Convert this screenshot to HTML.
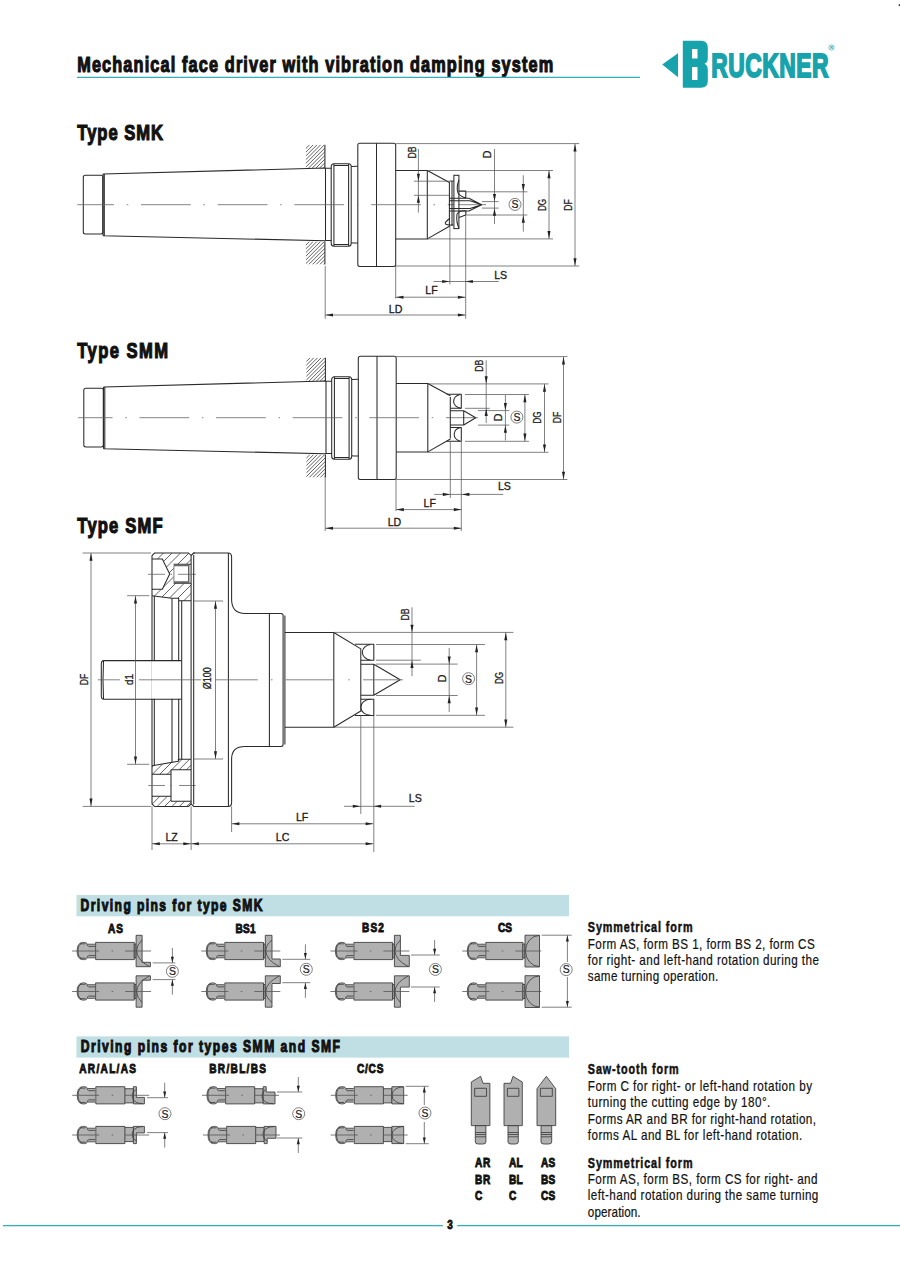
<!DOCTYPE html><html><head><meta charset="utf-8"><style>
body{margin:0;background:#fff;}
svg{display:block;}
text{font-family:"Liberation Sans",sans-serif;fill:#111;stroke:#111;stroke-width:0.15px;}
text[font-weight=bold]{stroke:#111;stroke-width:0.55;paint-order:stroke;}
.dt{stroke:#1a1a1a;stroke-width:0.3;}
.o{stroke:#2a2a2a;stroke-width:1.05;fill:none;stroke-linejoin:round;stroke-linecap:butt;}
.of{stroke:#2a2a2a;stroke-width:1.05;fill:#fff;}
.dm{stroke:#555;stroke-width:0.75;fill:none;}
.cl{stroke:#666;stroke-width:0.8;fill:none;}
.ar{fill:#222;stroke:none;}
.teal{stroke:#2fb0ba;}
.dt{fill:#1a1a1a;}
.pin{fill:#b0b0b0;stroke:#3a3a3a;stroke-width:0.85;stroke-linejoin:round;}
.pcl{stroke:#555;stroke-width:0.8;fill:none;}
.pinl{stroke:#3a3a3a;stroke-width:0.8;fill:none;}
.hat{stroke:#3a3a3a;stroke-width:0.8;}
</style></head><body><svg width="900" height="1271" viewBox="0 0 900 1271"><g transform="translate(77.2 71.7) scale(0.74 1)"><text class="t" x="0" y="0" font-size="22" font-weight="bold" style="stroke-width:1.2px;" textLength="643.24" lengthAdjust="spacing">Mechanical face driver with vibration damping system</text></g>
<line class="teal" x1="77" y1="77.4" x2="640" y2="77.4" stroke-width="1.3"/>
<g transform="translate(77.3 140) scale(0.76 1)"><text class="t" x="0" y="0" font-size="21.8" font-weight="bold" style="stroke-width:1.2px;" textLength="112.76" lengthAdjust="spacing">Type SMK</text></g>
<g transform="translate(77.3 358.2) scale(0.76 1)"><text class="t" x="0" y="0" font-size="21.8" font-weight="bold" style="stroke-width:1.2px;" textLength="119.34" lengthAdjust="spacing">Type SMM</text></g>
<g transform="translate(77.3 532.5) scale(0.76 1)"><text class="t" x="0" y="0" font-size="21.8" font-weight="bold" style="stroke-width:1.2px;" textLength="112.37" lengthAdjust="spacing">Type SMF</text></g>
<rect x="76.5" y="895" width="492.5" height="21.3" fill="#bfdfe4"/>
<g transform="translate(80.6 910.6) scale(0.72 1)"><text class="t" x="0" y="0" font-size="16.8" font-weight="bold" style="stroke-width:1.1px;" textLength="252.64" lengthAdjust="spacing">Driving pins for type SMK</text></g>
<rect x="76.5" y="1036.4" width="492.5" height="21.2" fill="#bfdfe4"/>
<g transform="translate(80.7 1052.4) scale(0.72 1)"><text class="t" x="0" y="0" font-size="16.8" font-weight="bold" style="stroke-width:1.1px;" textLength="360.14" lengthAdjust="spacing">Driving pins for types SMM and SMF</text></g>
<g transform="translate(108 932.5) scale(0.8 1)"><text class="t" x="0" y="0" font-size="12.6" font-weight="bold" style="stroke-width:0.9px;" textLength="18.75" lengthAdjust="spacing">AS</text></g>
<g transform="translate(235.5 932.5) scale(0.8 1)"><text class="t" x="0" y="0" font-size="12.6" font-weight="bold" style="stroke-width:0.9px;" textLength="25.12" lengthAdjust="spacing">BS1</text></g>
<g transform="translate(362 932.2) scale(0.8 1)"><text class="t" x="0" y="0" font-size="12.6" font-weight="bold" style="stroke-width:0.9px;" textLength="27.37" lengthAdjust="spacing">BS2</text></g>
<g transform="translate(498 932.2) scale(0.8 1)"><text class="t" x="0" y="0" font-size="12.6" font-weight="bold" style="stroke-width:0.9px;" textLength="17.50" lengthAdjust="spacing">CS</text></g>
<g transform="translate(79.3 1073) scale(0.8 1)"><text class="t" x="0" y="0" font-size="12.6" font-weight="bold" style="stroke-width:0.9px;" textLength="70.88" lengthAdjust="spacing">AR/AL/AS</text></g>
<g transform="translate(209.3 1073) scale(0.8 1)"><text class="t" x="0" y="0" font-size="12.6" font-weight="bold" style="stroke-width:0.9px;" textLength="70.88" lengthAdjust="spacing">BR/BL/BS</text></g>
<g transform="translate(357 1073) scale(0.8 1)"><text class="t" x="0" y="0" font-size="12.6" font-weight="bold" style="stroke-width:0.9px;" textLength="33.00" lengthAdjust="spacing">C/CS</text></g>
<g transform="translate(475 1167.0) scale(0.8 1)"><text class="t" x="0" y="0" font-size="12.6" font-weight="bold" style="stroke-width:0.9px;" textLength="19.12" lengthAdjust="spacing">AR</text></g>
<g transform="translate(475 1183.5) scale(0.8 1)"><text class="t" x="0" y="0" font-size="12.6" font-weight="bold" style="stroke-width:0.9px;" textLength="19.12" lengthAdjust="spacing">BR</text></g>
<g transform="translate(475 1200.0) scale(0.8 1)"><text class="t" x="0" y="0" font-size="12.6" font-weight="bold" style="stroke-width:0.9px;" textLength="9.12" lengthAdjust="spacing">C</text></g>
<g transform="translate(509 1167.0) scale(0.8 1)"><text class="t" x="0" y="0" font-size="12.6" font-weight="bold" style="stroke-width:0.9px;" textLength="17.12" lengthAdjust="spacing">AL</text></g>
<g transform="translate(509 1183.5) scale(0.8 1)"><text class="t" x="0" y="0" font-size="12.6" font-weight="bold" style="stroke-width:0.9px;" textLength="17.12" lengthAdjust="spacing">BL</text></g>
<g transform="translate(509 1200.0) scale(0.8 1)"><text class="t" x="0" y="0" font-size="12.6" font-weight="bold" style="stroke-width:0.9px;" textLength="9.12" lengthAdjust="spacing">C</text></g>
<g transform="translate(541 1167.0) scale(0.8 1)"><text class="t" x="0" y="0" font-size="12.6" font-weight="bold" style="stroke-width:0.9px;" textLength="17.88" lengthAdjust="spacing">AS</text></g>
<g transform="translate(541 1183.5) scale(0.8 1)"><text class="t" x="0" y="0" font-size="12.6" font-weight="bold" style="stroke-width:0.9px;" textLength="17.88" lengthAdjust="spacing">BS</text></g>
<g transform="translate(541 1200.0) scale(0.8 1)"><text class="t" x="0" y="0" font-size="12.6" font-weight="bold" style="stroke-width:0.9px;" textLength="17.88" lengthAdjust="spacing">CS</text></g>
<g transform="translate(587.8 931.7) scale(0.74 1)"><text class="t" x="0" y="0" font-size="14.6" font-weight="bold" style="stroke-width:0.5px;" textLength="141.49" lengthAdjust="spacing">Symmetrical form</text></g>
<g transform="translate(587.8 948.9) scale(0.8 1)"><text class="t" x="0" y="0" font-size="14.6" style="stroke-width:0.2px;" textLength="283.62" lengthAdjust="spacing">Form AS, form BS 1, form BS 2, form CS</text></g>
<g transform="translate(587.8 964.7) scale(0.8 1)"><text class="t" x="0" y="0" font-size="14.6" style="stroke-width:0.2px;" textLength="288.88" lengthAdjust="spacing">for right- and left-hand rotation during the</text></g>
<g transform="translate(587.8 980.8) scale(0.8 1)"><text class="t" x="0" y="0" font-size="14.6" style="stroke-width:0.2px;" textLength="163.12" lengthAdjust="spacing">same turning operation.</text></g>
<g transform="translate(587.8 1073.9) scale(0.74 1)"><text class="t" x="0" y="0" font-size="14.6" font-weight="bold" style="stroke-width:0.5px;" textLength="122.70" lengthAdjust="spacing">Saw-tooth form</text></g>
<g transform="translate(587.8 1090.6) scale(0.8 1)"><text class="t" x="0" y="0" font-size="14.6" style="stroke-width:0.2px;" textLength="280.25" lengthAdjust="spacing">Form C for right- or left-hand rotation by</text></g>
<g transform="translate(587.8 1107.2) scale(0.8 1)"><text class="t" x="0" y="0" font-size="14.6" style="stroke-width:0.2px;" textLength="228.12" lengthAdjust="spacing">turning the cutting edge by 180°.</text></g>
<g transform="translate(587.8 1123.9) scale(0.8 1)"><text class="t" x="0" y="0" font-size="14.6" style="stroke-width:0.2px;" textLength="285.25" lengthAdjust="spacing">Forms AR and BR for right-hand rotation,</text></g>
<g transform="translate(587.8 1139.7) scale(0.8 1)"><text class="t" x="0" y="0" font-size="14.6" style="stroke-width:0.2px;" textLength="268.00" lengthAdjust="spacing">forms AL and BL for left-hand rotation.</text></g>
<g transform="translate(587.8 1167.5) scale(0.74 1)"><text class="t" x="0" y="0" font-size="14.6" font-weight="bold" style="stroke-width:0.5px;" textLength="141.49" lengthAdjust="spacing">Symmetrical form</text></g>
<g transform="translate(587.8 1184.2) scale(0.8 1)"><text class="t" x="0" y="0" font-size="14.6" style="stroke-width:0.2px;" textLength="287.12" lengthAdjust="spacing">Form AS, form BS, form CS for right- and</text></g>
<g transform="translate(587.8 1200.3) scale(0.8 1)"><text class="t" x="0" y="0" font-size="14.6" style="stroke-width:0.2px;" textLength="288.12" lengthAdjust="spacing">left-hand rotation during the same turning</text></g>
<g transform="translate(587.8 1217) scale(0.8 1)"><text class="t" x="0" y="0" font-size="14.6" style="stroke-width:0.2px;" textLength="66.00" lengthAdjust="spacing">operation.</text></g>
<line class="teal" x1="3" y1="1225.7" x2="442.8" y2="1225.7" stroke-width="1.3"/>
<line class="teal" x1="457.2" y1="1225.7" x2="900" y2="1225.7" stroke-width="1.3"/>
<g transform="translate(450 1229) scale(0.8 1)"><text class="t" x="0" y="0" font-size="12.4" font-weight="bold" style="stroke-width:0.8px;" text-anchor="middle">3</text></g>
<polygon fill="#17a3ac" points="662.2,64.6 678,53.2 678,77.2"/>
<path fill="#17a3ac" fill-rule="evenodd" d="M682.8,40.8 L701,40.8 Q707.8,40.8 707.8,48 L707.8,58 Q707.8,62.5 704.5,63.8 Q707.8,65.2 707.8,70 L707.8,81 Q707.8,87.8 701,87.8 L682.8,87.8 Z M692,48.9 L697.5,48.9 L697.5,58.6 L692,58.6 Z M692,66.9 L697.5,66.9 L697.5,80 L692,80 Z"/>
<g transform="translate(711.2 76.6) scale(0.68 1)"><text class="t" x="0" y="0" font-size="33.6" font-weight="bold" style="fill:#17a3ac;stroke:#17a3ac;stroke-width:1.9px;" textLength="172.50" lengthAdjust="spacing">RUCKNER</text></g>
<circle cx="831.5" cy="47.5" r="2.6" fill="none" stroke="#17a3ac" stroke-width="0.6"/>
<text class="t" x="831.5" y="49" font-size="3.6" font-weight="bold" style="fill:#17a3ac;stroke:#17a3ac;stroke-width:0.1px;" text-anchor="middle">R</text>
<rect x="898.7" y="4.2" width="1.3" height="1.9" fill="#333"/>
<rect class="o" x="83.3" y="175.3" width="19.5" height="58.7" rx="2"/>
<path class="o" d="M103,174.0 L325.5,168.0 M103,235.8 L325.5,240.7 M103,174.0 L103,235.8 M104.3,174.2 L104.3,235.5 M325.5,168.0 L325.5,240.7" />
<path class="o" d="M325.5,168.3 L331.5,168.3 M325.5,240.5 L331.5,240.5" />
<path class="o" d="M331.2,166.3 Q331.4,163.9 333.8,163.7 L348.8,163.7 Q351,163.9 351.2,166.3 L351.2,243.6 Q351,246.0 348.8,246.2 L333.8,246.2 Q331.4,246.0 331.2,243.6 Z" />
<path class="o" d="M333.9,164.0 L333.9,246.0 M348.6,164.0 L348.6,246.0 M333.9,165.4 L348.6,165.4 M333.9,244.5 L348.6,244.5"  stroke-width="0.8"/>
<path class="o" d="M351.2,166.5 Q353,166.2 357.8,166.2 M351.2,242.7 Q353,243.0 357.8,243.0" />
<rect class="o" x="357.8" y="143.3" width="37.9" height="123.1" rx="2"/>
<line class="o" x1="376.5" y1="143.3" x2="376.5" y2="266.4"/>
<clipPath id="h305144"><rect x="305.9" y="144.8" width="18.900000000000034" height="23.19999999999999"/></clipPath>
<path class="hat" clip-path="url(#h305144)" d="M282.70,168.0 L305.90,144.8 M286.40,168.0 L309.60,144.8 M290.10,168.0 L313.30,144.8 M293.80,168.0 L317.00,144.8 M297.50,168.0 L320.70,144.8 M301.20,168.0 L324.40,144.8 M304.90,168.0 L328.10,144.8 M308.60,168.0 L331.80,144.8 M312.30,168.0 L335.50,144.8 M316.00,168.0 L339.20,144.8 M319.70,168.0 L342.90,144.8 M323.40,168.0 L346.60,144.8"/>
<clipPath id="h305241"><rect x="305.9" y="241.4" width="18.900000000000034" height="23.200000000000017"/></clipPath>
<path class="hat" clip-path="url(#h305241)" d="M282.70,264.6 L305.90,241.4 M286.40,264.6 L309.60,241.4 M290.10,264.6 L313.30,241.4 M293.80,264.6 L317.00,241.4 M297.50,264.6 L320.70,241.4 M301.20,264.6 L324.40,241.4 M304.90,264.6 L328.10,241.4 M308.60,264.6 L331.80,241.4 M312.30,264.6 L335.50,241.4 M316.00,264.6 L339.20,241.4 M319.70,264.6 L342.90,241.4 M323.40,264.6 L346.60,241.4"/>
<line class="o" x1="324.9" y1="144.8" x2="324.9" y2="168.0" stroke-width="0.9"/>
<line class="o" x1="324.9" y1="241.4" x2="324.9" y2="264.6" stroke-width="0.9"/>
<path class="o" d="M395.7,170.5 L427.3,170.5 L427.3,238.9 L395.7,238.9" />
<path class="o" d="M427.3,170.5 L449.9,182.7 M427.3,238.9 L449.9,226.0" />
<path class="cl" d="M77.30,204.7 L114.00,204.7 M126.75,204.7 L128.25,204.7 M141.00,204.7 L190.70,204.7 M203.45,204.7 L204.95,204.7 M217.70,204.7 L267.40,204.7 M280.15,204.7 L281.65,204.7 M294.40,204.7 L344.10,204.7 M356.85,204.7 L358.35,204.7 M371.10,204.7 L420.80,204.7 M433.55,204.7 L435.05,204.7 M447.80,204.7 L486.00,204.7"/>
<path class="o" d="M449.4,182.5 L449.4,226.5 M452,181.5 L452,226" />
<rect class="of" x="453.9" y="175.3" width="5" height="53.3" rx="0"/>
<path class="o" d="M458.9,180 Q456,188 458,193 Q461,197 465.8,197.8 L465.8,191.1 L458.9,191.1" />
<path class="o" d="M449.4,181.1 L453.9,181.1" />
<path class="o" d="M449.4,198.3 L468.9,198.3 L481.7,204.7 L468.9,211 L449.4,211 M449.4,200.8 L470,200.8 M449.4,208.4 L470,208.4 M470,200.8 L481.7,204.7 L470,208.4"  stroke-width="0.9"/>
<path class="o" d="M458.9,228 Q456,222 457,214 Q460,210 466,211 L465.6,215 L459,217.5"  stroke-width="0.9"/>
<path class="o" d="M450,218.3 Q444,222.5 445.5,224 Q448,225.5 453.3,224.7"  stroke-width="0.9"/>
<line class="dm" x1="395.7" y1="143.6" x2="579.2" y2="143.6"/>
<line class="dm" x1="395.7" y1="266" x2="579.2" y2="266"/>
<line class="dm" x1="427.3" y1="170.5" x2="553" y2="170.5"/>
<line class="dm" x1="427.3" y1="238.9" x2="553" y2="238.9"/>
<line class="dm" x1="466" y1="191.8" x2="527.3" y2="191.8"/>
<line class="dm" x1="466" y1="215" x2="527.3" y2="215"/>
<line class="dm" x1="482" y1="201.6" x2="498.6" y2="201.6"/>
<line class="dm" x1="482" y1="208.1" x2="498.6" y2="208.1"/>
<line class="dm" x1="575" y1="143.6" x2="575" y2="266"/>
<polygon class="ar" points="575.00,143.90 573.45,151.40 576.55,151.40"/>
<polygon class="ar" points="575.00,265.70 573.45,258.20 576.55,258.20"/>
<text class="dt" x="572.4" y="205" font-size="10.6" text-anchor="middle" textLength="11.6" lengthAdjust="spacingAndGlyphs" transform="rotate(-90 572.4 205)">DF</text>
<line class="dm" x1="549" y1="170.5" x2="549" y2="238.9"/>
<polygon class="ar" points="549.00,170.80 547.45,178.30 550.55,178.30"/>
<polygon class="ar" points="549.00,238.60 547.45,231.10 550.55,231.10"/>
<text class="dt" x="546.4" y="205" font-size="10.6" text-anchor="middle" textLength="12" lengthAdjust="spacingAndGlyphs" transform="rotate(-90 546.4 205)">DG</text>
<line class="dm" x1="523.3" y1="175.3" x2="523.3" y2="231.6"/>
<polygon class="ar" points="523.30,191.60 521.75,184.10 524.85,184.10"/>
<polygon class="ar" points="523.30,215.20 521.75,222.70 524.85,222.70"/>
<circle class="dm" cx="515" cy="204.4" r="6" fill="none"/>
<text class="dt" x="515" y="208.20000000000002" font-size="10.5" style="stroke-width:0.2px;" text-anchor="middle">S</text>
<line class="dm" x1="494.5" y1="149" x2="494.5" y2="224"/>
<polygon class="ar" points="494.50,201.40 492.95,193.90 496.05,193.90"/>
<polygon class="ar" points="494.50,208.30 492.95,215.80 496.05,215.80"/>
<text class="dt" x="491.4" y="154.5" font-size="10.6" text-anchor="middle" transform="rotate(-90 491.4 154.5)">D</text>
<line class="dm" x1="418.4" y1="149" x2="418.4" y2="212.6"/>
<polygon class="ar" points="418.40,181.20 416.85,173.70 419.95,173.70"/>
<polygon class="ar" points="418.40,195.30 416.85,202.80 419.95,202.80"/>
<line class="dm" x1="414" y1="181.2" x2="449" y2="181.2"/>
<line class="dm" x1="414" y1="195.3" x2="449" y2="195.3"/>
<text class="dt" x="415.6" y="152.5" font-size="10.6" text-anchor="middle" textLength="12" lengthAdjust="spacingAndGlyphs" transform="rotate(-90 415.6 152.5)">DB</text>
<line class="dm" x1="449.9" y1="226" x2="449.9" y2="284.4"/>
<line class="dm" x1="465.7" y1="212" x2="465.7" y2="318.7"/>
<line class="dm" x1="395.7" y1="266" x2="395.7" y2="298.6"/>
<line class="dm" x1="325.2" y1="266" x2="325.2" y2="318.7"/>
<line class="dm" x1="433.5" y1="281.5" x2="498.8" y2="281.5"/>
<polygon class="ar" points="449.70,281.50 442.20,279.95 442.20,283.05"/>
<polygon class="ar" points="465.40,281.50 472.90,279.95 472.90,283.05"/>
<text class="dt" x="500.7" y="278.8" font-size="10.6" text-anchor="middle">LS</text>
<line class="dm" x1="395.7" y1="297.2" x2="465.7" y2="297.2"/>
<polygon class="ar" points="396.00,297.20 403.50,295.65 403.50,298.75"/>
<polygon class="ar" points="465.40,297.20 457.90,295.65 457.90,298.75"/>
<text class="dt" x="431.5" y="294.2" font-size="10.6" text-anchor="middle">LF</text>
<line class="dm" x1="325.2" y1="315" x2="465.7" y2="315"/>
<polygon class="ar" points="325.50,315.00 333.00,313.45 333.00,316.55"/>
<polygon class="ar" points="465.40,315.00 457.90,313.45 457.90,316.55"/>
<text class="dt" x="395.6" y="312.6" font-size="10.6" text-anchor="middle">LD</text>
<rect class="o" x="83.8" y="388.3" width="19.5" height="58.7" rx="2"/>
<path class="o" d="M103.5,387.0 L326.0,381.0 M103.5,448.8 L326.0,453.7 M103.5,387.0 L103.5,448.8 M104.8,387.2 L104.8,448.5 M326.0,381.0 L326.0,453.7" />
<path class="o" d="M326.0,381.3 L332.0,381.3 M326.0,453.5 L332.0,453.5" />
<path class="o" d="M331.7,379.3 Q331.9,376.9 334.3,376.7 L349.3,376.7 Q351.5,376.9 351.7,379.3 L351.7,456.6 Q351.5,459.0 349.3,459.2 L334.3,459.2 Q331.9,459.0 331.7,456.6 Z" />
<path class="o" d="M334.4,377.0 L334.4,459.0 M349.1,377.0 L349.1,459.0 M334.4,378.4 L349.1,378.4 M334.4,457.5 L349.1,457.5"  stroke-width="0.8"/>
<path class="o" d="M351.7,379.5 Q353.5,379.2 358.3,379.2 M351.7,455.7 Q353.5,456.0 358.3,456.0" />
<rect class="o" x="358.3" y="356.3" width="37.9" height="123.1" rx="2"/>
<line class="o" x1="377.0" y1="356.3" x2="377.0" y2="479.4"/>
<clipPath id="h306357"><rect x="306.4" y="357.8" width="18.900000000000034" height="23.19999999999999"/></clipPath>
<path class="hat" clip-path="url(#h306357)" d="M283.20,381.0 L306.40,357.8 M286.90,381.0 L310.10,357.8 M290.60,381.0 L313.80,357.8 M294.30,381.0 L317.50,357.8 M298.00,381.0 L321.20,357.8 M301.70,381.0 L324.90,357.8 M305.40,381.0 L328.60,357.8 M309.10,381.0 L332.30,357.8 M312.80,381.0 L336.00,357.8 M316.50,381.0 L339.70,357.8 M320.20,381.0 L343.40,357.8 M323.90,381.0 L347.10,357.8"/>
<clipPath id="h306454"><rect x="306.4" y="454.4" width="18.900000000000034" height="23.200000000000045"/></clipPath>
<path class="hat" clip-path="url(#h306454)" d="M283.20,477.6 L306.40,454.4 M286.90,477.6 L310.10,454.4 M290.60,477.6 L313.80,454.4 M294.30,477.6 L317.50,454.4 M298.00,477.6 L321.20,454.4 M301.70,477.6 L324.90,454.4 M305.40,477.6 L328.60,454.4 M309.10,477.6 L332.30,454.4 M312.80,477.6 L336.00,454.4 M316.50,477.6 L339.70,454.4 M320.20,477.6 L343.40,454.4 M323.90,477.6 L347.10,454.4"/>
<line class="o" x1="325.4" y1="357.8" x2="325.4" y2="381.0" stroke-width="0.9"/>
<line class="o" x1="325.4" y1="454.4" x2="325.4" y2="477.6" stroke-width="0.9"/>
<path class="o" d="M396.2,383.5 L427.8,383.5 L427.8,451.9 L396.2,451.9" />
<path class="o" d="M427.8,383.5 L450.4,395.7 M427.8,451.9 L450.4,439.0" />
<path class="cl" d="M78.00,417.7 L112.60,417.7 M125.30,417.7 L126.80,417.7 M139.50,417.7 L189.20,417.7 M201.90,417.7 L203.40,417.7 M216.10,417.7 L265.80,417.7 M278.50,417.7 L280.00,417.7 M292.70,417.7 L342.40,417.7 M355.10,417.7 L356.60,417.7 M369.30,417.7 L419.00,417.7 M431.70,417.7 L433.20,417.7 M445.90,417.7 L478.00,417.7"/>
<line class="o" x1="450.3" y1="397" x2="450.3" y2="438.5"/>
<path class="o" d="M446.7,394.3 L461.3,394.3 L461.3,408.3 L450.3,408.3" />
<path class="o" d="M460,394.4 A8.2,7 0 0 0 461,408.2"  stroke-width="0.9"/>
<path class="o" d="M446.7,441.3 L461.3,441.3 L461.3,427.5 L450.3,427.5" />
<path class="o" d="M460,441.2 A8.2,7 0 0 1 461,427.6"  stroke-width="0.9"/>
<path class="o" d="M450.3,410.8 L463.7,410.8 L475.7,417.7 L463.7,425 L450.3,425 M463.7,410.8 L463.7,425" />
<line class="dm" x1="396.1" y1="356.6" x2="567.4" y2="356.6"/>
<line class="dm" x1="396.1" y1="479.5" x2="567.4" y2="479.5"/>
<line class="dm" x1="427.9" y1="383.9" x2="548.5" y2="383.9"/>
<line class="dm" x1="427.9" y1="452.3" x2="548.5" y2="452.3"/>
<line class="dm" x1="465" y1="394.5" x2="528.9" y2="394.5"/>
<line class="dm" x1="465" y1="441.3" x2="528.9" y2="441.3"/>
<line class="dm" x1="478" y1="410.6" x2="509.3" y2="410.6"/>
<line class="dm" x1="478" y1="425.1" x2="509.3" y2="425.1"/>
<line class="dm" x1="465" y1="408.3" x2="489.8" y2="408.3"/>
<line class="dm" x1="563.5" y1="356.6" x2="563.5" y2="479.5"/>
<polygon class="ar" points="563.50,356.90 561.95,364.40 565.05,364.40"/>
<polygon class="ar" points="563.50,479.20 561.95,471.70 565.05,471.70"/>
<text class="dt" x="560.8" y="417.5" font-size="10.6" text-anchor="middle" textLength="11.6" lengthAdjust="spacingAndGlyphs" transform="rotate(-90 560.8 417.5)">DF</text>
<line class="dm" x1="544.5" y1="383.9" x2="544.5" y2="452.3"/>
<polygon class="ar" points="544.50,384.20 542.95,391.70 546.05,391.70"/>
<polygon class="ar" points="544.50,452.00 542.95,444.50 546.05,444.50"/>
<text class="dt" x="541.3" y="417.5" font-size="10.6" text-anchor="middle" textLength="12" lengthAdjust="spacingAndGlyphs" transform="rotate(-90 541.3 417.5)">DG</text>
<line class="dm" x1="524.9" y1="394.5" x2="524.9" y2="441.3"/>
<polygon class="ar" points="524.90,394.80 523.35,402.30 526.45,402.30"/>
<polygon class="ar" points="524.90,441.00 523.35,433.50 526.45,433.50"/>
<circle class="dm" cx="516.9" cy="417.1" r="6" fill="none"/>
<text class="dt" x="516.9" y="420.90000000000003" font-size="10.5" style="stroke-width:0.2px;" text-anchor="middle">S</text>
<line class="dm" x1="505.4" y1="395" x2="505.4" y2="440.4"/>
<polygon class="ar" points="505.40,410.40 503.85,402.90 506.95,402.90"/>
<polygon class="ar" points="505.40,425.30 503.85,432.80 506.95,432.80"/>
<text class="dt" x="502.2" y="417.5" font-size="10.6" text-anchor="middle" transform="rotate(-90 502.2 417.5)">D</text>
<line class="dm" x1="486.2" y1="360.3" x2="486.2" y2="423.2"/>
<polygon class="ar" points="486.20,383.70 484.65,376.20 487.75,376.20"/>
<polygon class="ar" points="486.20,408.50 484.65,416.00 487.75,416.00"/>
<text class="dt" x="483.2" y="365.8" font-size="10.6" text-anchor="middle" textLength="12" lengthAdjust="spacingAndGlyphs" transform="rotate(-90 483.2 365.8)">DB</text>
<line class="dm" x1="450.3" y1="441.3" x2="450.3" y2="498"/>
<line class="dm" x1="461.3" y1="441.3" x2="461.3" y2="531"/>
<line class="dm" x1="396" y1="479.5" x2="396" y2="511"/>
<line class="dm" x1="325.2" y1="478" x2="325.2" y2="531"/>
<line class="dm" x1="434.2" y1="494.4" x2="503.2" y2="494.4"/>
<polygon class="ar" points="450.30,494.40 442.80,492.85 442.80,495.95"/>
<polygon class="ar" points="461.90,494.40 469.40,492.85 469.40,495.95"/>
<text class="dt" x="504.4" y="489.6" font-size="10.6" text-anchor="middle">LS</text>
<line class="dm" x1="396" y1="509.6" x2="461.6" y2="509.6"/>
<polygon class="ar" points="396.30,509.60 403.80,508.05 403.80,511.15"/>
<polygon class="ar" points="461.30,509.60 453.80,508.05 453.80,511.15"/>
<text class="dt" x="429.8" y="506.7" font-size="10.6" text-anchor="middle">LF</text>
<line class="dm" x1="325.2" y1="528.2" x2="461.6" y2="528.2"/>
<polygon class="ar" points="325.50,528.20 333.00,526.65 333.00,529.75"/>
<polygon class="ar" points="461.30,528.20 453.80,526.65 453.80,529.75"/>
<text class="dt" x="394.4" y="525.7" font-size="10.6" text-anchor="middle">LD</text>
<path class="o" d="M154.5,553 L188.6,553 L191.1,555.5 L191.1,803.9 L188.6,806.4 L154.5,806.4 L152,803.9 L152,555.5 Z" />
<clipPath id="cTop"><path d="M152,553 L191.1,553 L191.1,600.7 L178.7,600.7 L178.7,598.3 L171.7,598.3 L152,595.7 Z M152,559 L162.3,559 L169.7,574 L162.3,589.3 L152,589.3 Z M173.7,564.3 L191.1,564.3 L191.1,583.3 L173.7,583.3 Z" clip-rule="evenodd"/></clipPath>
<path class="hat" clip-path="url(#cTop)" d="M90.0,601 L138.0,553 M98.5,601 L146.5,553 M107.0,601 L155.0,553 M115.5,601 L163.5,553 M124.0,601 L172.0,553 M132.5,601 L180.5,553 M141.0,601 L189.0,553 M149.5,601 L197.5,553 M158.0,601 L206.0,553 M166.5,601 L214.5,553 M175.0,601 L223.0,553 M183.5,601 L231.5,553 M192.0,601 L240.0,553"/>
<path class="o" d="M152,595.7 L171.7,598.3 L178.7,598.3 L178.7,600.7 L191.1,600.7" />
<path class="o" d="M152,559 L162.3,559 L169.7,574 L162.3,589.3 L152,589.3" />
<path class="o" d="M173.7,564.3 L191.1,564.3 M173.7,583.3 L191.1,583.3 M188.8,564.3 L188.8,583.3" />
<path d="M173.7,564.3 L189,564.3 L189,566.3 L173.7,566.3 Z M173.7,581.3 L189,581.3 L189,583.3 L173.7,583.3 Z" fill="#666"/>
<line class="dm" x1="173.9" y1="566" x2="173.9" y2="581.5" stroke-width="0.6"/>
<path class="cl" d="M148,574.3 L165,574.3 M170.5,574.3 L172,574.3 M178,574.3 L196,574.3"/>
<clipPath id="cBot"><path d="M152,765.7 L178.3,761.3 L178.3,759.3 L191.1,759.3 L191.1,806.4 L152,806.4 Z M171,769.7 L191.1,769.7 L191.1,801.3 L171,801.3 Z M152,774.3 L171,774.3 L171,796.3 L152,796.3 Z" clip-rule="evenodd"/></clipPath>
<path class="hat" clip-path="url(#cBot)" d="M90.0,807 L138.0,759 M97.4,807 L145.4,759 M104.8,807 L152.8,759 M112.2,807 L160.2,759 M119.6,807 L167.6,759 M127.0,807 L175.0,759 M134.4,807 L182.4,759 M141.8,807 L189.8,759 M149.2,807 L197.2,759 M156.6,807 L204.6,759 M164.0,807 L212.0,759 M171.4,807 L219.4,759 M178.8,807 L226.8,759 M186.2,807 L234.2,759 M193.6,807 L241.6,759"/>
<path class="o" d="M152,765.7 L178.3,761.3 L178.3,759.3 L191.1,759.3" />
<path class="o" d="M171,769.7 L191.1,769.7 M171,801.3 L191.1,801.3 M171,769.7 L171,801.3 M152,774.3 L171,774.3 M152,796.3 L171,796.3" />
<path class="cl" d="M148.3,785.5 L165,785.5 M170.5,785.5 L172,785.5 M179,785.5 L195.7,785.5"/>
<line class="o" x1="154.3" y1="596" x2="154.3" y2="765.3" stroke-width="0.8"/>
<line class="o" x1="172" y1="598.3" x2="172" y2="762.5" stroke-width="0.95"/>
<line class="o" x1="178.7" y1="600.7" x2="178.7" y2="761.3" stroke-width="0.8"/>
<line class="o" x1="181.7" y1="600.7" x2="181.7" y2="759.3" stroke-width="0.95"/>
<path class="o" d="M193.5,553 L228,553 Q231.6,553 231.6,557 L231.6,600 Q232,613.4 244.9,613.4 L281,613.4 Q283.1,613.4 283.1,615.5 L283.1,744.5 Q283.1,746.5 281,746.5 L244.9,746.5 Q232,746.5 231.6,758.4 L231.6,802.4 Q231.6,806.4 228,806.4 L193.7,806.4" />
<path class="o" d="M191.1,555.5 L193.7,553 L195,553 M191.1,803.9 L193.7,806.4 L195,806.4" />
<line class="o" x1="193.7" y1="555" x2="193.7" y2="804.5" stroke-width="0.9"/>
<line class="o" x1="228.4" y1="553" x2="228.4" y2="806.4" stroke-width="0.9"/>
<line class="o" x1="269.4" y1="613.4" x2="269.4" y2="746.5"/>
<line class="o" x1="284.9" y1="615.5" x2="284.9" y2="744.5" stroke-width="0.7"/>
<path class="o" d="M284.9,632.5 L333.8,632.5 L333.8,727.3 L284.9,727.3" />
<path class="o" d="M333.8,632.5 L360.8,648.9 L360.8,711 L333.8,727.3" />
<rect x="151.3" y="661.1" width="29.3" height="37.7" fill="#fff"/>
<path class="o" d="M181.3,660.6 L104,660.6 Q101.3,660.6 101.3,664 L101.3,696 Q101.3,699.3 104,699.3 L181.3,699.3" />
<path class="o" d="M103.5,661 Q102.5,680 103.5,699"  stroke-width="0.7"/>
<path class="o" d="M355,644.3 L373.8,644.3 L373.8,660.3 L360.8,660.3" />
<path class="o" d="M370.5,644.4 A9.7,8 0 0 0 370.5,660.2"  stroke-width="0.9"/>
<path class="o" d="M355,715.4 L373.8,715.4 L373.8,699.2 L360.8,699.2" />
<path class="o" d="M370.5,715.3 A9.7,8 0 0 1 370.5,699.3"  stroke-width="0.9"/>
<path class="o" d="M360.8,664.2 L373.8,664.2 L400.2,679.8 L373.8,695.3 L360.8,695.3 M373.8,664.2 L373.8,695.3" />
<path class="cl" d="M97.8,679.8 L120,679.8 M138.9,679.8 L201.1,679.8 M215.6,679.8 L257.8,679.8 M271,679.8 L272.5,679.8 M285.8,679.8 L333.8,679.8 M348.2,679.8 L349.7,679.8 M363.1,679.8 L402.9,679.8"/>
<line class="dm" x1="82.7" y1="553" x2="151" y2="553"/>
<line class="dm" x1="82.7" y1="806.4" x2="151" y2="806.4"/>
<line class="dm" x1="91" y1="553" x2="91" y2="806.4"/>
<polygon class="ar" points="91.00,553.30 89.45,560.80 92.55,560.80"/>
<polygon class="ar" points="91.00,806.10 89.45,798.60 92.55,798.60"/>
<text class="dt" x="88" y="679.5" font-size="10.6" text-anchor="middle" textLength="11.6" lengthAdjust="spacingAndGlyphs" transform="rotate(-90 88 679.5)">DF</text>
<line class="dm" x1="127.1" y1="595.7" x2="149.3" y2="595.7"/>
<line class="dm" x1="127.1" y1="764.3" x2="149.3" y2="764.3"/>
<line class="dm" x1="135.5" y1="595.7" x2="135.5" y2="764.3"/>
<polygon class="ar" points="135.50,596.00 133.95,603.50 137.05,603.50"/>
<polygon class="ar" points="135.50,764.00 133.95,756.50 137.05,756.50"/>
<text class="dt" x="133" y="679.5" font-size="10.6" text-anchor="middle" textLength="11" lengthAdjust="spacingAndGlyphs" transform="rotate(-90 133 679.5)">d1</text>
<line class="dm" x1="193.8" y1="601" x2="223.1" y2="601"/>
<line class="dm" x1="193.8" y1="759" x2="223.1" y2="759"/>
<line class="dm" x1="215.5" y1="601" x2="215.5" y2="759"/>
<polygon class="ar" points="215.50,601.30 213.95,608.80 217.05,608.80"/>
<polygon class="ar" points="215.50,758.70 213.95,751.20 217.05,751.20"/>
<text class="dt" x="211.5" y="678.3" font-size="10.6" text-anchor="middle" textLength="22" lengthAdjust="spacingAndGlyphs" transform="rotate(-90 211.5 678.3)">Ø100</text>
<line class="dm" x1="333.8" y1="632.4" x2="513.4" y2="632.4"/>
<line class="dm" x1="333.8" y1="727.2" x2="513.4" y2="727.2"/>
<line class="dm" x1="505.8" y1="632.4" x2="505.8" y2="727.2"/>
<polygon class="ar" points="505.80,632.70 504.25,640.20 507.35,640.20"/>
<polygon class="ar" points="505.80,726.90 504.25,719.40 507.35,719.40"/>
<text class="dt" x="502.8" y="678.1" font-size="10.6" text-anchor="middle" textLength="12" lengthAdjust="spacingAndGlyphs" transform="rotate(-90 502.8 678.1)">DG</text>
<line class="dm" x1="376" y1="644.5" x2="485" y2="644.5"/>
<line class="dm" x1="376" y1="715.3" x2="485" y2="715.3"/>
<line class="dm" x1="476.6" y1="644.5" x2="476.6" y2="715.3"/>
<polygon class="ar" points="476.60,644.80 475.05,652.30 478.15,652.30"/>
<polygon class="ar" points="476.60,715.00 475.05,707.50 478.15,707.50"/>
<circle class="dm" cx="468.6" cy="678.7" r="6" fill="none"/>
<text class="dt" x="468.6" y="682.5" font-size="10.5" style="stroke-width:0.2px;" text-anchor="middle">S</text>
<line class="dm" x1="376" y1="664.1" x2="457.7" y2="664.1"/>
<line class="dm" x1="376" y1="695.5" x2="457.7" y2="695.5"/>
<line class="dm" x1="449.2" y1="647.9" x2="449.2" y2="712.1"/>
<polygon class="ar" points="449.20,663.90 447.65,656.40 450.75,656.40"/>
<polygon class="ar" points="449.20,695.70 447.65,703.20 450.75,703.20"/>
<text class="dt" x="446" y="678.5" font-size="10.6" text-anchor="middle" transform="rotate(-90 446 678.5)">D</text>
<line class="dm" x1="376" y1="660.2" x2="420.8" y2="660.2"/>
<line class="dm" x1="412" y1="607.3" x2="412" y2="676.2"/>
<polygon class="ar" points="412.00,632.20 410.45,624.70 413.55,624.70"/>
<polygon class="ar" points="412.00,660.40 410.45,667.90 413.55,667.90"/>
<text class="dt" x="408.6" y="614.6" font-size="10.6" text-anchor="middle" textLength="12" lengthAdjust="spacingAndGlyphs" transform="rotate(-90 408.6 614.6)">DB</text>
<line class="dm" x1="152" y1="806.4" x2="152" y2="850"/>
<line class="dm" x1="191.1" y1="806.4" x2="191.1" y2="850"/>
<line class="dm" x1="231.6" y1="806.4" x2="231.6" y2="832"/>
<line class="dm" x1="360.8" y1="715.4" x2="360.8" y2="814"/>
<line class="dm" x1="373.8" y1="715.4" x2="373.8" y2="852"/>
<line class="dm" x1="152" y1="843.8" x2="373.4" y2="843.8"/>
<polygon class="ar" points="152.30,843.80 159.80,842.25 159.80,845.35"/>
<polygon class="ar" points="190.80,843.80 183.30,842.25 183.30,845.35"/>
<polygon class="ar" points="191.40,843.80 198.90,842.25 198.90,845.35"/>
<polygon class="ar" points="373.10,843.80 365.60,842.25 365.60,845.35"/>
<text class="dt" x="171.6" y="841.1" font-size="10.6" text-anchor="middle">LZ</text>
<text class="dt" x="282.6" y="840.8" font-size="10.6" text-anchor="middle">LC</text>
<line class="dm" x1="231.6" y1="823.8" x2="373.4" y2="823.8"/>
<polygon class="ar" points="231.90,823.80 239.40,822.25 239.40,825.35"/>
<polygon class="ar" points="373.10,823.80 365.60,822.25 365.60,825.35"/>
<text class="dt" x="302.1" y="821.2" font-size="10.6" text-anchor="middle">LF</text>
<line class="dm" x1="344" y1="806.3" x2="414.7" y2="806.3"/>
<polygon class="ar" points="360.30,806.30 352.80,804.75 352.80,807.85"/>
<polygon class="ar" points="373.60,806.30 381.10,804.75 381.10,807.85"/>
<text class="dt" x="415.3" y="802" font-size="10.6" text-anchor="middle">LS</text>
<rect x="86.50" y="944.20" width="8.6" height="13.6" fill="#b0b0b0"/>
<path class="pinl" d="M87.50,944.20 L95.10,944.20 M87.50,957.80 L95.10,957.80"  stroke-width="0.8"/>
<path class="pinl" d="M88.50,946.40 L95.10,946.40 M88.50,955.60 L95.10,955.60"  stroke-width="0.8"/>
<path d="M88.50,946.40 Q87.30,946.00 87.30,944.50 Q87.00,942.40 84.50,942.40 L82.60,942.40 Q77.10,942.80 77.10,951.00 Q77.10,959.20 82.60,959.60 L84.50,959.60 Q87.00,959.60 87.30,957.50 Q87.30,956.00 88.50,955.60 Z" fill="#b4b4b4"/>
<path class="pinl" d="M88.50,946.40 Q87.30,946.00 87.30,944.50 Q87.00,942.40 84.50,942.40 L82.60,942.40 Q77.10,942.80 77.10,951.00 Q77.10,959.20 82.60,959.60 L84.50,959.60 Q87.00,959.60 87.30,957.50 Q87.30,956.00 88.50,955.60"  stroke-width="0.9"/>
<path class="pinl" d="M81.60,943.40 Q78.00,944.50 78.00,951.00 Q78.00,957.50 81.60,958.60"  stroke-width="1.2"/>
<path class="pinl" d="M80.10,943.80 L85.50,943.80 M80.10,958.20 L85.50,958.20"  stroke-width="0.6"/>
<rect class="pin" x="95.60" y="942.40" width="38.70" height="17.20" rx="0"/>
<path class="pin" d="M134.30,944.00 L136.10,944.00 L136.10,958.00 L134.30,958.00 Z" />
<path class="pin" d="M136.10,935.30 L142.10,935.30 L142.10,962.30 L150.40,962.30 L150.40,966.70 L136.10,966.70 Z" />
<path class="pinl" d="M142.10,940.00 Q136.60,945.00 136.60,951.00 Q137.10,960.00 149.40,966.50"  stroke-width="0.9"/>
<rect x="86.50" y="984.70" width="8.6" height="13.6" fill="#b0b0b0"/>
<path class="pinl" d="M87.50,984.70 L95.10,984.70 M87.50,998.30 L95.10,998.30"  stroke-width="0.8"/>
<path class="pinl" d="M88.50,986.90 L95.10,986.90 M88.50,996.10 L95.10,996.10"  stroke-width="0.8"/>
<path d="M88.50,986.90 Q87.30,986.50 87.30,985.00 Q87.00,982.90 84.50,982.90 L82.60,982.90 Q77.10,983.30 77.10,991.50 Q77.10,999.70 82.60,1000.10 L84.50,1000.10 Q87.00,1000.10 87.30,998.00 Q87.30,996.50 88.50,996.10 Z" fill="#b4b4b4"/>
<path class="pinl" d="M88.50,986.90 Q87.30,986.50 87.30,985.00 Q87.00,982.90 84.50,982.90 L82.60,982.90 Q77.10,983.30 77.10,991.50 Q77.10,999.70 82.60,1000.10 L84.50,1000.10 Q87.00,1000.10 87.30,998.00 Q87.30,996.50 88.50,996.10"  stroke-width="0.9"/>
<path class="pinl" d="M81.60,983.90 Q78.00,985.00 78.00,991.50 Q78.00,998.00 81.60,999.10"  stroke-width="1.2"/>
<path class="pinl" d="M80.10,984.30 L85.50,984.30 M80.10,998.70 L85.50,998.70"  stroke-width="0.6"/>
<rect class="pin" x="95.60" y="982.90" width="38.70" height="17.20" rx="0"/>
<path class="pin" d="M134.30,984.50 L136.10,984.50 L136.10,998.50 L134.30,998.50 Z" />
<path class="pin" d="M136.10,1007.20 L142.10,1007.20 L142.10,980.20 L150.40,980.20 L150.40,975.80 L136.10,975.80 Z" />
<path class="pinl" d="M142.10,1002.50 Q136.60,997.50 136.60,991.50 Q137.10,982.50 149.40,976.00"  stroke-width="0.9"/>
<rect x="215.70" y="944.20" width="8.6" height="13.6" fill="#b0b0b0"/>
<path class="pinl" d="M216.70,944.20 L224.30,944.20 M216.70,957.80 L224.30,957.80"  stroke-width="0.8"/>
<path class="pinl" d="M217.70,946.40 L224.30,946.40 M217.70,955.60 L224.30,955.60"  stroke-width="0.8"/>
<path d="M217.70,946.40 Q216.50,946.00 216.50,944.50 Q216.20,942.40 213.70,942.40 L211.80,942.40 Q206.30,942.80 206.30,951.00 Q206.30,959.20 211.80,959.60 L213.70,959.60 Q216.20,959.60 216.50,957.50 Q216.50,956.00 217.70,955.60 Z" fill="#b4b4b4"/>
<path class="pinl" d="M217.70,946.40 Q216.50,946.00 216.50,944.50 Q216.20,942.40 213.70,942.40 L211.80,942.40 Q206.30,942.80 206.30,951.00 Q206.30,959.20 211.80,959.60 L213.70,959.60 Q216.20,959.60 216.50,957.50 Q216.50,956.00 217.70,955.60"  stroke-width="0.9"/>
<path class="pinl" d="M210.80,943.40 Q207.20,944.50 207.20,951.00 Q207.20,957.50 210.80,958.60"  stroke-width="1.2"/>
<path class="pinl" d="M209.30,943.80 L214.70,943.80 M209.30,958.20 L214.70,958.20"  stroke-width="0.6"/>
<rect class="pin" x="224.80" y="942.40" width="38.70" height="17.20" rx="0"/>
<path class="pin" d="M263.50,944.00 L265.30,944.00 L265.30,958.00 L263.50,958.00 Z" />
<path class="pin" d="M265.30,935.30 L272.00,935.30 L272.00,959.00 L280.30,959.00 L280.30,966.70 L265.30,966.70 Z" />
<path class="pinl" d="M272.00,940.00 Q265.80,945.00 265.80,951.00 Q266.30,960.00 279.30,966.50"  stroke-width="0.9"/>
<rect x="215.70" y="984.70" width="8.6" height="13.6" fill="#b0b0b0"/>
<path class="pinl" d="M216.70,984.70 L224.30,984.70 M216.70,998.30 L224.30,998.30"  stroke-width="0.8"/>
<path class="pinl" d="M217.70,986.90 L224.30,986.90 M217.70,996.10 L224.30,996.10"  stroke-width="0.8"/>
<path d="M217.70,986.90 Q216.50,986.50 216.50,985.00 Q216.20,982.90 213.70,982.90 L211.80,982.90 Q206.30,983.30 206.30,991.50 Q206.30,999.70 211.80,1000.10 L213.70,1000.10 Q216.20,1000.10 216.50,998.00 Q216.50,996.50 217.70,996.10 Z" fill="#b4b4b4"/>
<path class="pinl" d="M217.70,986.90 Q216.50,986.50 216.50,985.00 Q216.20,982.90 213.70,982.90 L211.80,982.90 Q206.30,983.30 206.30,991.50 Q206.30,999.70 211.80,1000.10 L213.70,1000.10 Q216.20,1000.10 216.50,998.00 Q216.50,996.50 217.70,996.10"  stroke-width="0.9"/>
<path class="pinl" d="M210.80,983.90 Q207.20,985.00 207.20,991.50 Q207.20,998.00 210.80,999.10"  stroke-width="1.2"/>
<path class="pinl" d="M209.30,984.30 L214.70,984.30 M209.30,998.70 L214.70,998.70"  stroke-width="0.6"/>
<rect class="pin" x="224.80" y="982.90" width="38.70" height="17.20" rx="0"/>
<path class="pin" d="M263.50,984.50 L265.30,984.50 L265.30,998.50 L263.50,998.50 Z" />
<path class="pin" d="M265.30,1007.20 L272.00,1007.20 L272.00,983.50 L280.30,983.50 L280.30,975.80 L265.30,975.80 Z" />
<path class="pinl" d="M272.00,1002.50 Q265.80,997.50 265.80,991.50 Q266.30,982.50 279.30,976.00"  stroke-width="0.9"/>
<rect x="344.80" y="944.20" width="8.6" height="13.6" fill="#b0b0b0"/>
<path class="pinl" d="M345.80,944.20 L353.40,944.20 M345.80,957.80 L353.40,957.80"  stroke-width="0.8"/>
<path class="pinl" d="M346.80,946.40 L353.40,946.40 M346.80,955.60 L353.40,955.60"  stroke-width="0.8"/>
<path d="M346.80,946.40 Q345.60,946.00 345.60,944.50 Q345.30,942.40 342.80,942.40 L340.90,942.40 Q335.40,942.80 335.40,951.00 Q335.40,959.20 340.90,959.60 L342.80,959.60 Q345.30,959.60 345.60,957.50 Q345.60,956.00 346.80,955.60 Z" fill="#b4b4b4"/>
<path class="pinl" d="M346.80,946.40 Q345.60,946.00 345.60,944.50 Q345.30,942.40 342.80,942.40 L340.90,942.40 Q335.40,942.80 335.40,951.00 Q335.40,959.20 340.90,959.60 L342.80,959.60 Q345.30,959.60 345.60,957.50 Q345.60,956.00 346.80,955.60"  stroke-width="0.9"/>
<path class="pinl" d="M339.90,943.40 Q336.30,944.50 336.30,951.00 Q336.30,957.50 339.90,958.60"  stroke-width="1.2"/>
<path class="pinl" d="M338.40,943.80 L343.80,943.80 M338.40,958.20 L343.80,958.20"  stroke-width="0.6"/>
<rect class="pin" x="353.90" y="942.40" width="38.70" height="17.20" rx="0"/>
<path class="pin" d="M392.60,944.00 L394.40,944.00 L394.40,958.00 L392.60,958.00 Z" />
<path class="pin" d="M394.40,935.30 L400.40,935.30 L400.40,955.40 L409.30,955.40 L409.30,966.70 L394.40,966.70 Z" />
<path class="pinl" d="M400.40,940.00 Q394.90,945.00 394.90,951.00 Q395.40,960.00 408.30,966.50"  stroke-width="0.9"/>
<rect x="344.80" y="984.70" width="8.6" height="13.6" fill="#b0b0b0"/>
<path class="pinl" d="M345.80,984.70 L353.40,984.70 M345.80,998.30 L353.40,998.30"  stroke-width="0.8"/>
<path class="pinl" d="M346.80,986.90 L353.40,986.90 M346.80,996.10 L353.40,996.10"  stroke-width="0.8"/>
<path d="M346.80,986.90 Q345.60,986.50 345.60,985.00 Q345.30,982.90 342.80,982.90 L340.90,982.90 Q335.40,983.30 335.40,991.50 Q335.40,999.70 340.90,1000.10 L342.80,1000.10 Q345.30,1000.10 345.60,998.00 Q345.60,996.50 346.80,996.10 Z" fill="#b4b4b4"/>
<path class="pinl" d="M346.80,986.90 Q345.60,986.50 345.60,985.00 Q345.30,982.90 342.80,982.90 L340.90,982.90 Q335.40,983.30 335.40,991.50 Q335.40,999.70 340.90,1000.10 L342.80,1000.10 Q345.30,1000.10 345.60,998.00 Q345.60,996.50 346.80,996.10"  stroke-width="0.9"/>
<path class="pinl" d="M339.90,983.90 Q336.30,985.00 336.30,991.50 Q336.30,998.00 339.90,999.10"  stroke-width="1.2"/>
<path class="pinl" d="M338.40,984.30 L343.80,984.30 M338.40,998.70 L343.80,998.70"  stroke-width="0.6"/>
<rect class="pin" x="353.90" y="982.90" width="38.70" height="17.20" rx="0"/>
<path class="pin" d="M392.60,984.50 L394.40,984.50 L394.40,998.50 L392.60,998.50 Z" />
<path class="pin" d="M394.40,1007.20 L400.40,1007.20 L400.40,987.10 L409.30,987.10 L409.30,975.80 L394.40,975.80 Z" />
<path class="pinl" d="M400.40,1002.50 Q394.90,997.50 394.90,991.50 Q395.40,982.50 408.30,976.00"  stroke-width="0.9"/>
<rect x="476.70" y="944.20" width="8.6" height="13.6" fill="#b0b0b0"/>
<path class="pinl" d="M477.70,944.20 L485.30,944.20 M477.70,957.80 L485.30,957.80"  stroke-width="0.8"/>
<path class="pinl" d="M478.70,946.40 L485.30,946.40 M478.70,955.60 L485.30,955.60"  stroke-width="0.8"/>
<path d="M478.70,946.40 Q477.50,946.00 477.50,944.50 Q477.20,942.40 474.70,942.40 L472.80,942.40 Q467.30,942.80 467.30,951.00 Q467.30,959.20 472.80,959.60 L474.70,959.60 Q477.20,959.60 477.50,957.50 Q477.50,956.00 478.70,955.60 Z" fill="#b4b4b4"/>
<path class="pinl" d="M478.70,946.40 Q477.50,946.00 477.50,944.50 Q477.20,942.40 474.70,942.40 L472.80,942.40 Q467.30,942.80 467.30,951.00 Q467.30,959.20 472.80,959.60 L474.70,959.60 Q477.20,959.60 477.50,957.50 Q477.50,956.00 478.70,955.60"  stroke-width="0.9"/>
<path class="pinl" d="M471.80,943.40 Q468.20,944.50 468.20,951.00 Q468.20,957.50 471.80,958.60"  stroke-width="1.2"/>
<path class="pinl" d="M470.30,943.80 L475.70,943.80 M470.30,958.20 L475.70,958.20"  stroke-width="0.6"/>
<rect class="pin" x="485.80" y="942.40" width="37.10" height="17.20" rx="0"/>
<path class="pin" d="M522.90,944.00 L525.00,944.00 L525.00,958.00 L522.90,958.00 Z" />
<rect class="pin" x="525.00" y="935.20" width="14.50" height="31.8" rx="0"/>
<path class="pinl" d="M539.20,935.50 A13.70,15.5 0 0 0 539.20,966.50"  stroke-width="0.9"/>
<rect x="476.70" y="984.70" width="8.6" height="13.6" fill="#b0b0b0"/>
<path class="pinl" d="M477.70,984.70 L485.30,984.70 M477.70,998.30 L485.30,998.30"  stroke-width="0.8"/>
<path class="pinl" d="M478.70,986.90 L485.30,986.90 M478.70,996.10 L485.30,996.10"  stroke-width="0.8"/>
<path d="M478.70,986.90 Q477.50,986.50 477.50,985.00 Q477.20,982.90 474.70,982.90 L472.80,982.90 Q467.30,983.30 467.30,991.50 Q467.30,999.70 472.80,1000.10 L474.70,1000.10 Q477.20,1000.10 477.50,998.00 Q477.50,996.50 478.70,996.10 Z" fill="#b4b4b4"/>
<path class="pinl" d="M478.70,986.90 Q477.50,986.50 477.50,985.00 Q477.20,982.90 474.70,982.90 L472.80,982.90 Q467.30,983.30 467.30,991.50 Q467.30,999.70 472.80,1000.10 L474.70,1000.10 Q477.20,1000.10 477.50,998.00 Q477.50,996.50 478.70,996.10"  stroke-width="0.9"/>
<path class="pinl" d="M471.80,983.90 Q468.20,985.00 468.20,991.50 Q468.20,998.00 471.80,999.10"  stroke-width="1.2"/>
<path class="pinl" d="M470.30,984.30 L475.70,984.30 M470.30,998.70 L475.70,998.70"  stroke-width="0.6"/>
<rect class="pin" x="485.80" y="982.90" width="37.10" height="17.20" rx="0"/>
<path class="pin" d="M522.90,984.50 L525.00,984.50 L525.00,998.50 L522.90,998.50 Z" />
<rect class="pin" x="525.00" y="975.70" width="14.50" height="31.8" rx="0"/>
<path class="pinl" d="M539.20,976.00 A13.70,15.5 0 0 0 539.20,1007.00"  stroke-width="0.9"/>
<line class="dm" x1="152.7" y1="962.9" x2="175.3" y2="962.9"/>
<line class="dm" x1="152.7" y1="979.6" x2="175.3" y2="979.6"/>
<line class="dm" x1="172.4" y1="947.9" x2="172.4" y2="962.9"/>
<polygon class="ar" points="172.40,962.70 170.90,956.70 173.90,956.70"/>
<line class="dm" x1="172.4" y1="979.6" x2="172.4" y2="994.6"/>
<polygon class="ar" points="172.40,979.80 170.90,985.80 173.90,985.80"/>
<circle class="dm" cx="172.4" cy="971.3" r="6" fill="none"/>
<text class="dt" x="172.4" y="975.0999999999999" font-size="10.5" style="stroke-width:0.2px;" text-anchor="middle">S</text>
<line class="dm" x1="282.3" y1="959.3" x2="310.3" y2="959.3"/>
<line class="dm" x1="282.3" y1="982.7" x2="310.3" y2="982.7"/>
<line class="dm" x1="305.4" y1="944.3" x2="305.4" y2="959.3"/>
<polygon class="ar" points="305.40,959.10 303.90,953.10 306.90,953.10"/>
<line class="dm" x1="305.4" y1="982.7" x2="305.4" y2="997.7"/>
<polygon class="ar" points="305.40,982.90 303.90,988.90 306.90,988.90"/>
<circle class="dm" cx="306.3" cy="969.3" r="6" fill="none"/>
<text class="dt" x="306.3" y="973.0999999999999" font-size="10.5" style="stroke-width:0.2px;" text-anchor="middle">S</text>
<line class="dm" x1="411" y1="955" x2="439.7" y2="955"/>
<line class="dm" x1="411" y1="987" x2="439.7" y2="987"/>
<line class="dm" x1="434.6" y1="940" x2="434.6" y2="955"/>
<polygon class="ar" points="434.60,954.80 433.10,948.80 436.10,948.80"/>
<line class="dm" x1="434.6" y1="987" x2="434.6" y2="1002"/>
<polygon class="ar" points="434.60,987.20 433.10,993.20 436.10,993.20"/>
<circle class="dm" cx="435.4" cy="969.4" r="6" fill="none"/>
<text class="dt" x="435.4" y="973.1999999999999" font-size="10.5" style="stroke-width:0.2px;" text-anchor="middle">S</text>
<line class="dm" x1="541.7" y1="935.2" x2="571.7" y2="935.2"/>
<line class="dm" x1="541.7" y1="1007.2" x2="571.7" y2="1007.2"/>
<line class="dm" x1="567.4" y1="935.2" x2="567.4" y2="962"/>
<line class="dm" x1="567.4" y1="977" x2="567.4" y2="1007.2"/>
<polygon class="ar" points="567.40,935.50 565.90,941.50 568.90,941.50"/>
<polygon class="ar" points="567.40,1006.90 565.90,1000.90 568.90,1000.90"/>
<circle class="dm" cx="566.2" cy="969.6" r="6" fill="none"/>
<text class="dt" x="566.2" y="973.4" font-size="10.5" style="stroke-width:0.2px;" text-anchor="middle">S</text>
<rect x="86.60" y="1088.50" width="8.6" height="13.6" fill="#b0b0b0"/>
<path class="pinl" d="M87.60,1088.50 L95.20,1088.50 M87.60,1102.10 L95.20,1102.10"  stroke-width="0.8"/>
<path class="pinl" d="M88.60,1090.70 L95.20,1090.70 M88.60,1099.90 L95.20,1099.90"  stroke-width="0.8"/>
<path d="M88.60,1090.70 Q87.40,1090.30 87.40,1088.80 Q87.10,1086.70 84.60,1086.70 L82.70,1086.70 Q77.20,1087.10 77.20,1095.30 Q77.20,1103.50 82.70,1103.90 L84.60,1103.90 Q87.10,1103.90 87.40,1101.80 Q87.40,1100.30 88.60,1099.90 Z" fill="#b4b4b4"/>
<path class="pinl" d="M88.60,1090.70 Q87.40,1090.30 87.40,1088.80 Q87.10,1086.70 84.60,1086.70 L82.70,1086.70 Q77.20,1087.10 77.20,1095.30 Q77.20,1103.50 82.70,1103.90 L84.60,1103.90 Q87.10,1103.90 87.40,1101.80 Q87.40,1100.30 88.60,1099.90"  stroke-width="0.9"/>
<path class="pinl" d="M81.70,1087.70 Q78.10,1088.80 78.10,1095.30 Q78.10,1101.80 81.70,1102.90"  stroke-width="1.2"/>
<path class="pinl" d="M80.20,1088.10 L85.60,1088.10 M80.20,1102.50 L85.60,1102.50"  stroke-width="0.6"/>
<path class="pin" d="M123.90,1088.70 L133.40,1088.70 L133.40,1102.90 L123.90,1102.90 Z" />
<rect class="pin" x="95.80" y="1086.70" width="29.10" height="17.20" rx="0"/>
<path class="pin" d="M133.40,1086.70 L136.40,1086.70 L136.40,1097.40 L144.40,1097.40 L144.40,1103.90 L133.40,1103.90 Z" />
<path class="pinl" d="M136.40,1089.30 Q131.40,1092.30 132.40,1097.80 Q134.40,1103.70 142.90,1103.70"  stroke-width="0.9"/>
<rect x="86.60" y="1128.20" width="8.6" height="13.6" fill="#b0b0b0"/>
<path class="pinl" d="M87.60,1128.20 L95.20,1128.20 M87.60,1141.80 L95.20,1141.80"  stroke-width="0.8"/>
<path class="pinl" d="M88.60,1130.40 L95.20,1130.40 M88.60,1139.60 L95.20,1139.60"  stroke-width="0.8"/>
<path d="M88.60,1130.40 Q87.40,1130.00 87.40,1128.50 Q87.10,1126.40 84.60,1126.40 L82.70,1126.40 Q77.20,1126.80 77.20,1135.00 Q77.20,1143.20 82.70,1143.60 L84.60,1143.60 Q87.10,1143.60 87.40,1141.50 Q87.40,1140.00 88.60,1139.60 Z" fill="#b4b4b4"/>
<path class="pinl" d="M88.60,1130.40 Q87.40,1130.00 87.40,1128.50 Q87.10,1126.40 84.60,1126.40 L82.70,1126.40 Q77.20,1126.80 77.20,1135.00 Q77.20,1143.20 82.70,1143.60 L84.60,1143.60 Q87.10,1143.60 87.40,1141.50 Q87.40,1140.00 88.60,1139.60"  stroke-width="0.9"/>
<path class="pinl" d="M81.70,1127.40 Q78.10,1128.50 78.10,1135.00 Q78.10,1141.50 81.70,1142.60"  stroke-width="1.2"/>
<path class="pinl" d="M80.20,1127.80 L85.60,1127.80 M80.20,1142.20 L85.60,1142.20"  stroke-width="0.6"/>
<path class="pin" d="M123.90,1141.60 L133.40,1141.60 L133.40,1127.40 L123.90,1127.40 Z" />
<rect class="pin" x="95.80" y="1126.40" width="29.10" height="17.20" rx="0"/>
<path class="pin" d="M133.40,1143.60 L136.40,1143.60 L136.40,1132.90 L144.40,1132.90 L144.40,1126.40 L133.40,1126.40 Z" />
<path class="pinl" d="M136.40,1141.00 Q131.40,1138.00 132.40,1132.50 Q134.40,1126.60 142.90,1126.60"  stroke-width="0.9"/>
<rect x="216.40" y="1088.50" width="8.6" height="13.6" fill="#b0b0b0"/>
<path class="pinl" d="M217.40,1088.50 L225.00,1088.50 M217.40,1102.10 L225.00,1102.10"  stroke-width="0.8"/>
<path class="pinl" d="M218.40,1090.70 L225.00,1090.70 M218.40,1099.90 L225.00,1099.90"  stroke-width="0.8"/>
<path d="M218.40,1090.70 Q217.20,1090.30 217.20,1088.80 Q216.90,1086.70 214.40,1086.70 L212.50,1086.70 Q207.00,1087.10 207.00,1095.30 Q207.00,1103.50 212.50,1103.90 L214.40,1103.90 Q216.90,1103.90 217.20,1101.80 Q217.20,1100.30 218.40,1099.90 Z" fill="#b4b4b4"/>
<path class="pinl" d="M218.40,1090.70 Q217.20,1090.30 217.20,1088.80 Q216.90,1086.70 214.40,1086.70 L212.50,1086.70 Q207.00,1087.10 207.00,1095.30 Q207.00,1103.50 212.50,1103.90 L214.40,1103.90 Q216.90,1103.90 217.20,1101.80 Q217.20,1100.30 218.40,1099.90"  stroke-width="0.9"/>
<path class="pinl" d="M211.50,1087.70 Q207.90,1088.80 207.90,1095.30 Q207.90,1101.80 211.50,1102.90"  stroke-width="1.2"/>
<path class="pinl" d="M210.00,1088.10 L215.40,1088.10 M210.00,1102.50 L215.40,1102.50"  stroke-width="0.6"/>
<path class="pin" d="M253.70,1088.70 L263.20,1088.70 L263.20,1102.90 L253.70,1102.90 Z" />
<rect class="pin" x="225.60" y="1086.70" width="29.10" height="17.20" rx="0"/>
<path class="pin" d="M263.20,1086.70 L266.20,1086.70 L266.20,1092.00 L275.00,1092.00 L275.00,1103.90 L263.20,1103.90 Z" />
<path class="pinl" d="M266.20,1089.30 Q261.20,1092.30 262.20,1097.80 Q264.20,1103.70 273.50,1103.70"  stroke-width="0.9"/>
<rect x="217.40" y="1128.20" width="8.6" height="13.6" fill="#b0b0b0"/>
<path class="pinl" d="M218.40,1128.20 L226.00,1128.20 M218.40,1141.80 L226.00,1141.80"  stroke-width="0.8"/>
<path class="pinl" d="M219.40,1130.40 L226.00,1130.40 M219.40,1139.60 L226.00,1139.60"  stroke-width="0.8"/>
<path d="M219.40,1130.40 Q218.20,1130.00 218.20,1128.50 Q217.90,1126.40 215.40,1126.40 L213.50,1126.40 Q208.00,1126.80 208.00,1135.00 Q208.00,1143.20 213.50,1143.60 L215.40,1143.60 Q217.90,1143.60 218.20,1141.50 Q218.20,1140.00 219.40,1139.60 Z" fill="#b4b4b4"/>
<path class="pinl" d="M219.40,1130.40 Q218.20,1130.00 218.20,1128.50 Q217.90,1126.40 215.40,1126.40 L213.50,1126.40 Q208.00,1126.80 208.00,1135.00 Q208.00,1143.20 213.50,1143.60 L215.40,1143.60 Q217.90,1143.60 218.20,1141.50 Q218.20,1140.00 219.40,1139.60"  stroke-width="0.9"/>
<path class="pinl" d="M212.50,1127.40 Q208.90,1128.50 208.90,1135.00 Q208.90,1141.50 212.50,1142.60"  stroke-width="1.2"/>
<path class="pinl" d="M211.00,1127.80 L216.40,1127.80 M211.00,1142.20 L216.40,1142.20"  stroke-width="0.6"/>
<path class="pin" d="M254.70,1141.60 L264.20,1141.60 L264.20,1127.40 L254.70,1127.40 Z" />
<rect class="pin" x="226.60" y="1126.40" width="29.10" height="17.20" rx="0"/>
<path class="pin" d="M264.20,1143.60 L267.20,1143.60 L267.20,1138.30 L276.00,1138.30 L276.00,1126.40 L264.20,1126.40 Z" />
<path class="pinl" d="M267.20,1141.00 Q262.20,1138.00 263.20,1132.50 Q265.20,1126.60 274.50,1126.60"  stroke-width="0.9"/>
<rect x="345.10" y="1088.50" width="8.6" height="13.6" fill="#b0b0b0"/>
<path class="pinl" d="M346.10,1088.50 L353.70,1088.50 M346.10,1102.10 L353.70,1102.10"  stroke-width="0.8"/>
<path class="pinl" d="M347.10,1090.70 L353.70,1090.70 M347.10,1099.90 L353.70,1099.90"  stroke-width="0.8"/>
<path d="M347.10,1090.70 Q345.90,1090.30 345.90,1088.80 Q345.60,1086.70 343.10,1086.70 L341.20,1086.70 Q335.70,1087.10 335.70,1095.30 Q335.70,1103.50 341.20,1103.90 L343.10,1103.90 Q345.60,1103.90 345.90,1101.80 Q345.90,1100.30 347.10,1099.90 Z" fill="#b4b4b4"/>
<path class="pinl" d="M347.10,1090.70 Q345.90,1090.30 345.90,1088.80 Q345.60,1086.70 343.10,1086.70 L341.20,1086.70 Q335.70,1087.10 335.70,1095.30 Q335.70,1103.50 341.20,1103.90 L343.10,1103.90 Q345.60,1103.90 345.90,1101.80 Q345.90,1100.30 347.10,1099.90"  stroke-width="0.9"/>
<path class="pinl" d="M340.20,1087.70 Q336.60,1088.80 336.60,1095.30 Q336.60,1101.80 340.20,1102.90"  stroke-width="1.2"/>
<path class="pinl" d="M338.70,1088.10 L344.10,1088.10 M338.70,1102.50 L344.10,1102.50"  stroke-width="0.6"/>
<path class="pin" d="M382.40,1088.70 L391.90,1088.70 L391.90,1102.90 L382.40,1102.90 Z" />
<rect class="pin" x="354.30" y="1086.70" width="29.10" height="17.20" rx="0"/>
<path class="pin" d="M391.90,1086.70 L403.70,1086.70 L403.70,1103.90 L391.90,1103.90 Z" />
<path class="pinl" d="M403.40,1086.80 A11.50,8.5 0 0 0 403.40,1103.80"  stroke-width="0.9"/>
<rect x="345.10" y="1128.20" width="8.6" height="13.6" fill="#b0b0b0"/>
<path class="pinl" d="M346.10,1128.20 L353.70,1128.20 M346.10,1141.80 L353.70,1141.80"  stroke-width="0.8"/>
<path class="pinl" d="M347.10,1130.40 L353.70,1130.40 M347.10,1139.60 L353.70,1139.60"  stroke-width="0.8"/>
<path d="M347.10,1130.40 Q345.90,1130.00 345.90,1128.50 Q345.60,1126.40 343.10,1126.40 L341.20,1126.40 Q335.70,1126.80 335.70,1135.00 Q335.70,1143.20 341.20,1143.60 L343.10,1143.60 Q345.60,1143.60 345.90,1141.50 Q345.90,1140.00 347.10,1139.60 Z" fill="#b4b4b4"/>
<path class="pinl" d="M347.10,1130.40 Q345.90,1130.00 345.90,1128.50 Q345.60,1126.40 343.10,1126.40 L341.20,1126.40 Q335.70,1126.80 335.70,1135.00 Q335.70,1143.20 341.20,1143.60 L343.10,1143.60 Q345.60,1143.60 345.90,1141.50 Q345.90,1140.00 347.10,1139.60"  stroke-width="0.9"/>
<path class="pinl" d="M340.20,1127.40 Q336.60,1128.50 336.60,1135.00 Q336.60,1141.50 340.20,1142.60"  stroke-width="1.2"/>
<path class="pinl" d="M338.70,1127.80 L344.10,1127.80 M338.70,1142.20 L344.10,1142.20"  stroke-width="0.6"/>
<path class="pin" d="M382.40,1141.60 L391.90,1141.60 L391.90,1127.40 L382.40,1127.40 Z" />
<rect class="pin" x="354.30" y="1126.40" width="29.10" height="17.20" rx="0"/>
<path class="pin" d="M391.90,1126.40 L403.70,1126.40 L403.70,1143.60 L391.90,1143.60 Z" />
<path class="pinl" d="M403.40,1126.50 A11.50,8.5 0 0 0 403.40,1143.50"  stroke-width="0.9"/>
<line class="dm" x1="147" y1="1097.7" x2="168" y2="1097.7"/>
<line class="dm" x1="147" y1="1132.6" x2="168" y2="1132.6"/>
<line class="dm" x1="164.7" y1="1082.7" x2="164.7" y2="1097.7"/>
<polygon class="ar" points="164.70,1097.50 163.20,1091.50 166.20,1091.50"/>
<line class="dm" x1="164.7" y1="1132.6" x2="164.7" y2="1147.6"/>
<polygon class="ar" points="164.70,1132.80 163.20,1138.80 166.20,1138.80"/>
<circle class="dm" cx="165" cy="1113.7" r="6" fill="none"/>
<text class="dt" x="165" y="1117.5" font-size="10.5" style="stroke-width:0.2px;" text-anchor="middle">S</text>
<line class="dm" x1="277" y1="1092" x2="302.3" y2="1092"/>
<line class="dm" x1="277" y1="1138" x2="302.3" y2="1138"/>
<line class="dm" x1="298.3" y1="1077" x2="298.3" y2="1092"/>
<polygon class="ar" points="298.30,1091.80 296.80,1085.80 299.80,1085.80"/>
<line class="dm" x1="298.3" y1="1138" x2="298.3" y2="1153"/>
<polygon class="ar" points="298.30,1138.20 296.80,1144.20 299.80,1144.20"/>
<circle class="dm" cx="298.7" cy="1113.7" r="6" fill="none"/>
<text class="dt" x="298.7" y="1117.5" font-size="10.5" style="stroke-width:0.2px;" text-anchor="middle">S</text>
<line class="dm" x1="405.7" y1="1086.3" x2="428.7" y2="1086.3"/>
<line class="dm" x1="405.7" y1="1143.7" x2="428.7" y2="1143.7"/>
<line class="dm" x1="424.3" y1="1086.3" x2="424.3" y2="1105"/>
<line class="dm" x1="424.3" y1="1122" x2="424.3" y2="1143.7"/>
<polygon class="ar" points="424.30,1086.60 422.80,1092.60 425.80,1092.60"/>
<polygon class="ar" points="424.30,1143.40 422.80,1137.40 425.80,1137.40"/>
<circle class="dm" cx="425" cy="1113" r="6" fill="none"/>
<text class="dt" x="425" y="1116.8" font-size="10.5" style="stroke-width:0.2px;" text-anchor="middle">S</text>
<path class="pcl" d="M72.10,951.00 L99.10,951.00 M111.60,951.00 L113.10,951.00 M125.10,951.00 L151.10,951.00"/>
<path class="pcl" d="M72.10,991.50 L99.10,991.50 M111.60,991.50 L113.10,991.50 M125.10,991.50 L151.10,991.50"/>
<path class="pcl" d="M201.30,951.00 L228.30,951.00 M240.80,951.00 L242.30,951.00 M254.30,951.00 L280.30,951.00"/>
<path class="pcl" d="M201.30,991.50 L228.30,991.50 M240.80,991.50 L242.30,991.50 M254.30,991.50 L280.30,991.50"/>
<path class="pcl" d="M330.40,951.00 L357.40,951.00 M369.90,951.00 L371.40,951.00 M383.40,951.00 L409.40,951.00"/>
<path class="pcl" d="M330.40,991.50 L357.40,991.50 M369.90,991.50 L371.40,991.50 M383.40,991.50 L409.40,991.50"/>
<path class="pcl" d="M462.30,951.00 L489.30,951.00 M501.80,951.00 L503.30,951.00 M515.30,951.00 L541.30,951.00"/>
<path class="pcl" d="M462.30,991.50 L489.30,991.50 M501.80,991.50 L503.30,991.50 M515.30,991.50 L541.30,991.50"/>
<path class="pcl" d="M72.20,1095.30 L99.20,1095.30 M111.70,1095.30 L113.20,1095.30 M125.20,1095.30 L149.20,1095.30"/>
<path class="pcl" d="M72.20,1135.00 L99.20,1135.00 M111.70,1135.00 L113.20,1135.00 M125.20,1135.00 L149.20,1135.00"/>
<path class="pcl" d="M202.00,1095.30 L229.00,1095.30 M241.50,1095.30 L243.00,1095.30 M255.00,1095.30 L279.00,1095.30"/>
<path class="pcl" d="M203.00,1135.00 L230.00,1135.00 M242.50,1135.00 L244.00,1135.00 M256.00,1135.00 L280.00,1135.00"/>
<path class="pcl" d="M330.70,1095.30 L357.70,1095.30 M370.20,1095.30 L371.70,1095.30 M383.70,1095.30 L407.70,1095.30"/>
<path class="pcl" d="M330.70,1135.00 L357.70,1135.00 M370.20,1135.00 L371.70,1135.00 M383.70,1135.00 L407.70,1135.00"/>
<path class="pin" d="M475.30,1125.60 L475.30,1142 Q475.30,1144 478.30,1144 L482.90,1144 Q485.90,1144 485.90,1142 L485.90,1125.60 Z" />
<line class="pinl" x1="475.30" y1="1132.5" x2="485.90" y2="1132.5" stroke-width="0.8"/>
<line class="pinl" x1="475.30" y1="1134.5" x2="485.90" y2="1134.5" stroke-width="0.8"/>
<line class="pinl" x1="475.30" y1="1136.8" x2="485.90" y2="1136.8" stroke-width="0.8"/>
<path class="pin" d="M471.30,1125.60 L471.30,1082 L480.60,1076.3 L483.00,1083.3 L489.90,1083.3 L489.90,1125.60 Z" />
<rect class="pin" x="474.70" y="1088.3" width="11.80" height="8" rx="0"/>
<path class="pin" d="M508.00,1125.60 L508.00,1142 Q508.00,1144 511.00,1144 L515.30,1144 Q518.30,1144 518.30,1142 L518.30,1125.60 Z" />
<line class="pinl" x1="508.00" y1="1132.5" x2="518.30" y2="1132.5" stroke-width="0.8"/>
<line class="pinl" x1="508.00" y1="1134.5" x2="518.30" y2="1134.5" stroke-width="0.8"/>
<line class="pinl" x1="508.00" y1="1136.8" x2="518.30" y2="1136.8" stroke-width="0.8"/>
<path class="pin" d="M504.00,1125.60 L504.00,1083.3 L510.60,1083.3 L513.00,1076.3 L522.30,1082 L522.30,1125.60 Z" />
<rect class="pin" x="507.40" y="1088.3" width="11.50" height="8" rx="0"/>
<path class="pin" d="M541.00,1125.60 L541.00,1142 Q541.00,1144 544.00,1144 L548.70,1144 Q551.70,1144 551.70,1142 L551.70,1125.60 Z" />
<line class="pinl" x1="541.00" y1="1132.5" x2="551.70" y2="1132.5" stroke-width="0.8"/>
<line class="pinl" x1="541.00" y1="1134.5" x2="551.70" y2="1134.5" stroke-width="0.8"/>
<line class="pinl" x1="541.00" y1="1136.8" x2="551.70" y2="1136.8" stroke-width="0.8"/>
<path class="pin" d="M537.00,1125.60 L537.00,1088.7 L546.35,1076.3 L555.70,1088.7 L555.70,1125.60 Z" />
<rect class="pin" x="540.40" y="1088.3" width="11.90" height="8" rx="0"/></svg></body></html>
